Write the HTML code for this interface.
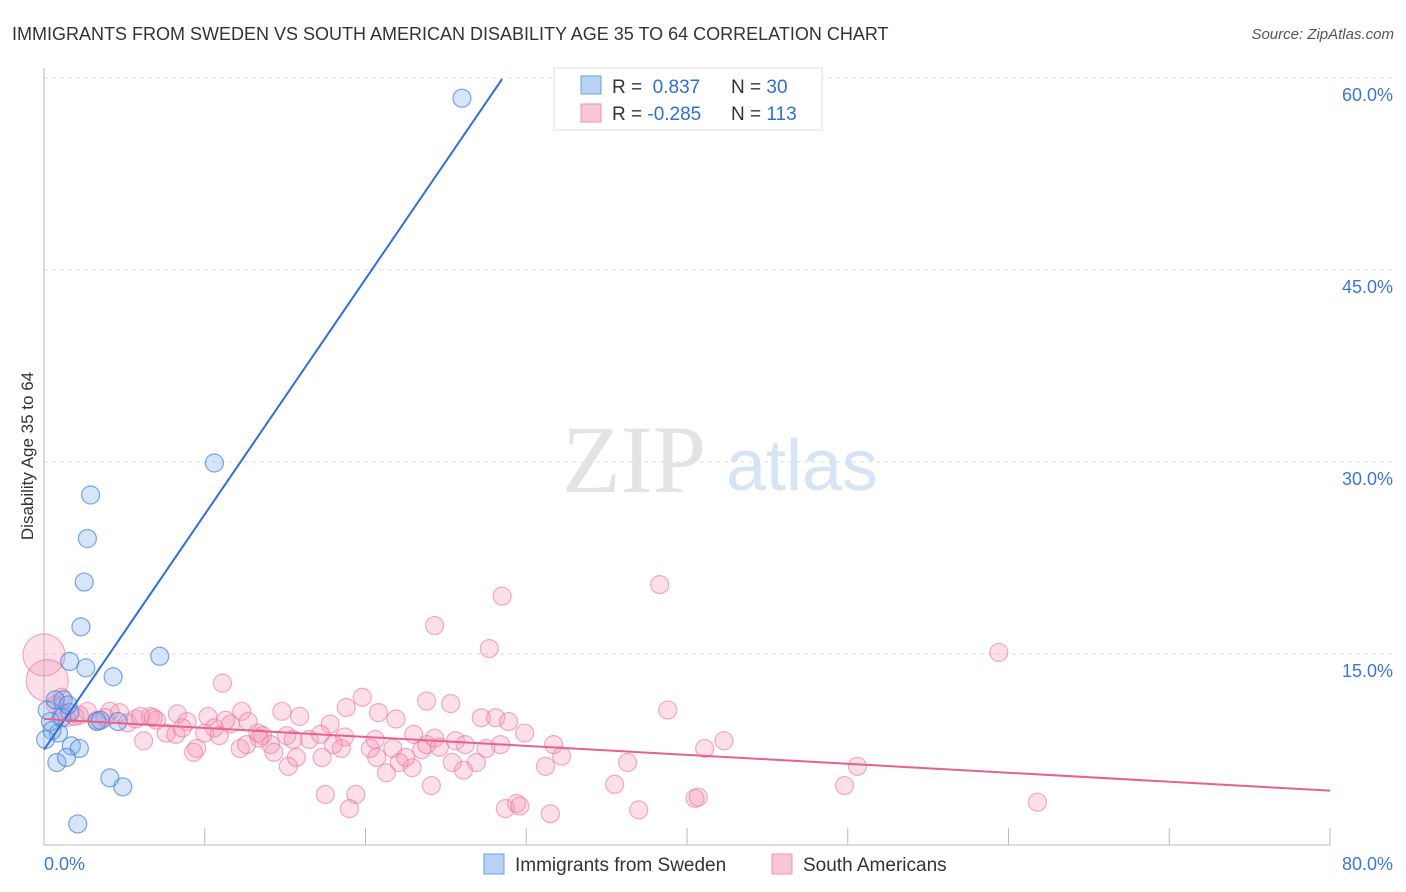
<!DOCTYPE html>
<html><head><meta charset="utf-8"><style>
body{margin:0;background:#fff;font-family:"Liberation Sans",sans-serif;}
svg{display:block}
</style></head><body>
<svg id="chart" width="1406" height="892">
<text x="12" y="40" font-size="18" fill="#333">IMMIGRANTS FROM SWEDEN VS SOUTH AMERICAN DISABILITY AGE 35 TO 64 CORRELATION CHART</text>
<text x="1394" y="39" font-size="15" fill="#555" font-style="italic" text-anchor="end">Source: ZipAtlas.com</text>
<text x="634" y="492" font-size="96" fill="#e3e3e3" font-family="Liberation Serif,serif" text-anchor="middle">ZIP</text>
<text x="802" y="490" font-size="72" fill="#d6e4f5" text-anchor="middle">atlas</text>
<text transform="translate(33,456) rotate(-90)" font-size="17" fill="#333" text-anchor="middle">Disability Age 35 to 64</text>
<g id="grid"></g><g id="axes"></g><g id="pts"></g><g id="lines"></g>
<g>
<rect x="554" y="68" width="268" height="62" fill="#fff" stroke="#ddd"/>
<rect x="581" y="76" width="20" height="18" fill="#b9d3f5" stroke="#6a9fe0"/>
<rect x="581" y="104" width="20" height="18" fill="#f9c6d6" stroke="#ec93b0"/>
<text x="612" y="93" font-size="19" fill="#333">R = <tspan fill="#2f6fd0">&#160;0.837</tspan><tspan x="731">N = </tspan><tspan fill="#2f6fd0">30</tspan></text>
<text x="612" y="120" font-size="19" fill="#333">R = <tspan fill="#2f6fd0">-0.285</tspan><tspan x="731">N = </tspan><tspan fill="#2f6fd0">113</tspan></text>
</g>
<g>
<rect x="484" y="854" width="20" height="20" fill="#b9d3f5" stroke="#6a9fe0"/>
<text x="515" y="871" font-size="19" fill="#333">Immigrants from Sweden</text>
<rect x="772" y="854" width="20" height="20" fill="#f9c6d6" stroke="#ec93b0"/>
<text x="803" y="871" font-size="19" fill="#333">South Americans</text>
</g>
</svg>
<script>
const blueX=[26.0,10.6,2.9,2.7,2.5,2.3,7.2,1.6,2.6,4.3,1.2,1.6,3.3,4.6,0.9,0.4,1.7,2.2,0.8,1.4,4.1,4.9,2.1,0.2,0.5,1.1,0.1,3.5,0.7,1.5];
const blueY=[58.5,30.0,27.5,24.1,20.7,17.2,14.9,14.5,14.0,13.3,11.5,10.5,9.8,9.8,8.9,9.8,7.9,7.7,6.6,7.0,5.4,4.7,1.8,10.7,9.1,10.1,8.4,9.9,11.5,11.1];
const pinkX=[38.3,28.5,24.3,27.7,59.4,11.1,19.8,23.8,25.3,38.8,18.8,20.8,15.9,14.8,12.3,8.3,10.2,6.6,4.7,2.7,1.9,3.3,5.7,7.0,8.9,11.6,13.3,21.9,27.2,28.1,28.9,17.8,10.6,10.0,7.6,8.2,6.2,10.9,13.6,15.1,16.5,18.7,18.5,20.3,21.7,23.5,25.6,26.2,27.5,29.9,31.7,32.2,23.8,24.3,9.5,9.3,12.2,12.6,14.1,14.3,15.7,15.2,17.3,21.3,22.9,22.1,22.5,20.7,26.1,26.9,31.2,36.3,41.1,42.3,50.6,24.1,19.4,17.5,19.0,28.7,29.4,29.6,31.5,35.5,37.0,40.5,40.7,49.8,61.8,6.8,4.1,1.1,0.7,1.4,2.2,3.8,5.2,8.6,11.3,15.5,17.2,20.6,24.6,28.4,1.1,6.0,12.7,13.4,18.0,23.0,25.4,0.0,0.2];
const pinkY=[20.5,19.6,17.3,15.5,15.2,12.8,11.7,11.4,11.2,10.7,10.9,10.5,10.2,10.6,10.6,10.4,10.2,10.2,10.5,10.6,10.2,9.9,10.0,9.9,9.8,9.6,8.9,10.0,10.1,10.1,9.8,9.6,9.3,8.9,8.9,8.8,8.3,8.7,8.7,8.7,8.4,8.6,7.7,7.7,7.7,7.6,8.3,8.0,7.7,8.9,8.0,7.1,8.0,8.5,7.7,7.4,7.7,8.0,8.0,7.4,7.0,6.3,7.0,5.8,6.2,6.6,7.0,7.0,6.0,6.6,6.3,6.6,7.7,8.3,6.3,4.8,4.1,4.1,3.0,3.0,3.4,3.2,2.6,4.9,2.9,3.8,3.9,4.8,3.5,10.1,10.6,11.7,11.1,10.1,10.3,10.1,9.7,9.3,9.9,8.4,8.8,8.4,7.8,8.0,10.5,10.2,9.8,8.5,8.0,8.8,6.6,15.0,13.0];
const pinkR=pinkX.map((v,i)=>i>=pinkX.length-2?21:9);
const blueTrendX=[0,28.5];const blueTrendY=[7.6,60];
const pinkTrendX=[0,80];const pinkTrendY=[10.0,4.4];
const yTicks=[15,30,45,60];const yTickLabels=["15.0%","30.0%","45.0%","60.0%"];
const xTicks=[0,10,20,30,40,50,60,70,80];
const NS="http://www.w3.org/2000/svg";
const sx=v=>44+v*1286/80, sy=v=>847-v*12.8;
function mk(t,a,p){const e=document.createElementNS(NS,t);for(const k in a)e.setAttribute(k,a[k]);p.appendChild(e);return e;}
const grid=document.getElementById('grid'),axes=document.getElementById('axes'),pts=document.getElementById('pts'),lines=document.getElementById('lines');
yTicks.forEach((v,i)=>{
 const l=mk('line',{x1:44,x2:1394,y1:sy(v)-1,y2:sy(v)-1,stroke:'#ddd','stroke-dasharray':'4 4'},grid);
 
 
 const t=mk('text',{x:1393,y:sy(v)+22,'font-size':18,fill:'#3a78d8','text-anchor':'end'},axes);
 t.textContent=yTickLabels[i];
 
 
});
mk('line',{x1:44,x2:44,y1:68,y2:845,stroke:'#bbb'},axes);
mk('line',{x1:44,x2:1330,y1:845,y2:845,stroke:'#bbb'},axes);
xTicks.forEach(v=>{const l=mk('line',{x1:sx(v),x2:sx(v),y1:828,y2:845,stroke:'#bbb'},axes);
 
 });
const x0=mk('text',{x:44,y:870,'font-size':18,fill:'#3a78d8'},axes);x0.textContent='0.0%';


const x1=mk('text',{x:1393,y:870,'font-size':18,fill:'#3a78d8','text-anchor':'end'},axes);x1.textContent='80.0%';


pinkX.forEach((v,i)=>{const c=mk('circle',{cx:sx(v),cy:sy(pinkY[i]),r:pinkR[i],fill:'rgba(244,150,180,0.3)',stroke:'rgba(232,120,160,0.6)','stroke-width':1.2},pts);
 
 });
blueX.forEach((v,i)=>{const c=mk('circle',{cx:sx(v),cy:sy(blueY[i]),r:9,fill:'rgba(120,170,235,0.3)',stroke:'rgba(70,130,220,0.7)','stroke-width':1.2},pts);
 
 });
const bl=mk('line',{x1:sx(blueTrendX[0]),y1:sy(blueTrendY[0]),x2:sx(blueTrendX[1]),y2:sy(blueTrendY[1]),stroke:'#2f6fd6','stroke-width':2},lines);


const pl=mk('line',{x1:sx(pinkTrendX[0]),y1:sy(pinkTrendY[0]),x2:sx(pinkTrendX[1]),y2:sy(pinkTrendY[1]),stroke:'#e8608f','stroke-width':2},lines);


</script>
</body></html>
